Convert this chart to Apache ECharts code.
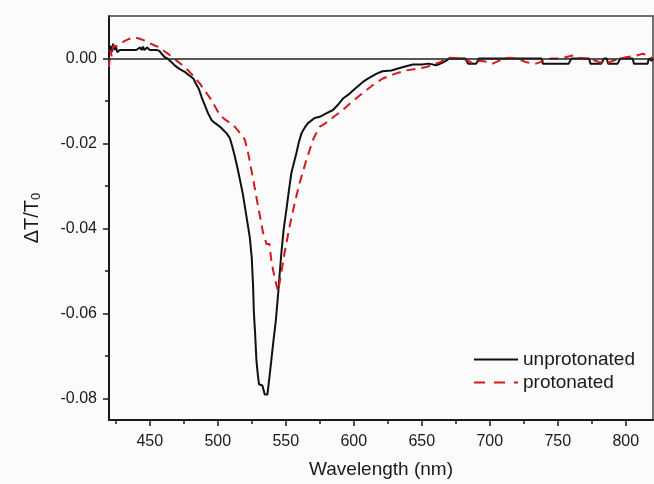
<!DOCTYPE html>
<html>
<head>
<meta charset="utf-8">
<script src="https://cdn.jsdelivr.net/npm/echarts@6/dist/echarts.min.js"></script>
<style>
  html, body { margin: 0; padding: 0; background: #fbfbfb; }
  #chart { width: 654px; height: 484px; }
</style>
</head>
<body>
<div id="chart"></div>
<script>
// unprotonated (black, solid)
const unprotWl = [420, 421, 422, 423, 424, 425, 426, 428, 430, 435, 440, 443, 444, 445, 446, 448, 450, 455, 457, 459, 461, 463, 466, 469, 472, 476, 479, 482, 484, 486, 488, 490.5, 493, 495.5, 498, 501.5, 504, 506.5, 508.8, 510.5, 512.5, 514.5, 516.2, 518.5, 521, 523.5, 525, 526, 526.5, 527.5, 528.4, 529.5, 530.3, 532.8, 534.5, 536.5, 538.2, 540.6, 542.6, 544.3, 545.3, 546.8, 548.5, 550.5, 552.3, 554.1, 556, 557.8, 559.5, 561.5, 564, 566.3, 571.2, 575, 579, 584.7, 588, 592, 596, 599.4, 603, 606.7, 611, 616.5, 621, 627.6, 635, 643.4, 650, 655, 660.6, 665, 668, 670, 682, 684, 690, 692, 738, 739, 758, 760, 773, 774, 782, 784, 786, 787, 794, 796, 805, 806, 816, 817, 819, 820];
const unprotVal = [0.0005, 0.003, 0.0015, 0.0035, 0.002, 0.003, 0.0015, 0.002, 0.002, 0.002, 0.002, 0.0026, 0.002, 0.0028, 0.002, 0.0026, 0.002, 0.002, 0.0018, 0.001, 0.0003, 0, -0.0009, -0.0018, -0.0025, -0.0032, -0.004, -0.0047, -0.006, -0.0071, -0.009, -0.011, -0.013, -0.0145, -0.0152, -0.016, -0.0168, -0.0176, -0.0187, -0.0205, -0.023, -0.0258, -0.0284, -0.032, -0.037, -0.042, -0.047, -0.054, -0.0595, -0.065, -0.071, -0.0745, -0.0766, -0.0769, -0.079, -0.079, -0.0743, -0.0673, -0.0618, -0.0556, -0.0515, -0.0455, -0.04, -0.0354, -0.031, -0.0269, -0.0245, -0.0222, -0.0198, -0.0176, -0.0162, -0.0152, -0.014, -0.0137, -0.013, -0.0121, -0.011, -0.0094, -0.0085, -0.0075, -0.0065, -0.0055, -0.0046, -0.0036, -0.003, -0.0028, -0.0021, -0.0014, -0.0014, -0.0012, -0.0016, -0.001, -0.0005, 0, 0, -0.0012, -0.0012, 0, 0, -0.0012, -0.0012, 0, 0, -0.0012, -0.0012, 0, 0, -0.0012, -0.0012, 0, 0, -0.0012, -0.0012, 0, -0.0005, 0];

// protonated (red, dashed)
const protWl = [420, 421, 422, 423, 425, 428, 432, 436, 439, 442, 446.4, 450, 454, 457.4, 460, 463.5, 466.5, 469.7, 474, 478.2, 482.5, 486.8, 491, 495.4, 498.5, 501.5, 506, 511.3, 515.5, 519.9, 522.3, 526, 529.6, 533.3, 535.8, 538, 539.5, 541.9, 544.3, 546.8, 549.2, 552.9, 556.6, 560.2, 565.2, 570, 572, 575, 577.4, 581, 586, 592, 600, 609, 615, 621.4, 630, 638.5, 646, 653.3, 658, 663, 670.4, 680, 684, 687.6, 693, 698, 702, 707, 714, 720, 727, 734, 740, 745, 752, 757, 761, 765, 770, 775, 780, 785.6, 790, 795, 800, 804.7, 808, 812, 815, 817, 820];
const protVal = [-0.002, 0.002, 0.0005, 0.003, 0.0028, 0.0035, 0.0042, 0.0048, 0.005, 0.0047, 0.0042, 0.0036, 0.003, 0.0026, 0.0019, 0.0011, 0.0003, -0.0005, -0.0016, -0.0028, -0.0043, -0.0059, -0.0078, -0.0098, -0.0116, -0.0133, -0.0145, -0.0156, -0.0172, -0.0191, -0.0222, -0.0284, -0.0347, -0.041, -0.0436, -0.0436, -0.0479, -0.0517, -0.0547, -0.0502, -0.0455, -0.0393, -0.0339, -0.0292, -0.0238, -0.0191, -0.0178, -0.016, -0.0156, -0.0148, -0.0135, -0.0121, -0.0098, -0.0075, -0.006, -0.0047, -0.0036, -0.0028, -0.0024, -0.002, -0.0015, -0.0009, 0.0002, 0, -0.0005, -0.0012, -0.0005, -0.0008, -0.0012, -0.0005, 0.0002, 0, -0.0009, -0.0012, -0.0005, 0, 0, 0.0004, 0.0007, 0.0002, 0, -0.0002, -0.0008, -0.0012, -0.0006, -0.0001, 0.0003, 0.0005, 0.0007, 0.0011, 0.0009, 0.0004, 0];

const xMajor = [450, 500, 550, 600, 650, 700, 750, 800];
const xMinor = [425, 475, 525, 575, 625, 675, 725, 775];
const yMajor = [0, -0.02, -0.04, -0.06, -0.08];
const yMinor = [-0.01, -0.03, -0.05, -0.07];

const font = "Liberation Sans, Arial, sans-serif";
const ink = "#1a1a1a";

const zip = (xs, ys) => xs.map((x, i) => [x, ys[i]]);

const chart = echarts.init(document.getElementById("chart"));

const xBase = {
  type: "value", min: 420, max: 820, gridIndex: 0,
  splitLine: { show: false }
};
const yBase = {
  type: "value", min: -0.085, max: 0.01, gridIndex: 0,
  splitLine: { show: false }
};

chart.setOption({
  backgroundColor: "#fbfbfb",
  animation: false,
  grid: { left: 109, right: 1, top: 16, bottom: 62 },
  legend: {
    orient: "vertical",
    left: 468,
    top: 345,
    itemWidth: 44,
    itemHeight: 14,
    itemGap: 4,
    itemStyle: { opacity: 0 },
    textStyle: { fontFamily: font, fontSize: 19, color: ink },
    data: [
      { name: "unprotonated" },
      { name: "protonated", lineStyle: { type: [11, 9] } }
    ]
  },
  xAxis: [
    Object.assign({}, xBase, {
      position: "bottom",
      name: "Wavelength (nm)",
      nameLocation: "middle",
      nameGap: 40,
      nameTextStyle: { fontFamily: font, fontSize: 19, color: ink },
      axisLine: { onZero: false, lineStyle: { color: ink, width: 2 } },
      axisTick: { customValues: xMajor, length: 6, lineStyle: { color: ink, width: 1.5 } },
      axisLabel: { customValues: xMajor, margin: 14, fontFamily: font, fontSize: 16, color: ink }
    }),
    Object.assign({}, xBase, {
      position: "bottom",
      axisLine: { show: false, onZero: false },
      axisTick: { customValues: xMinor, length: 4, lineStyle: { color: ink, width: 1.5 } },
      axisLabel: { show: false }
    }),
    Object.assign({}, xBase, {
      position: "top",
      axisLine: { onZero: false, lineStyle: { color: "#444", width: 1.5 } },
      axisTick: { show: false },
      axisLabel: { show: false }
    })
  ],
  yAxis: [
    Object.assign({}, yBase, {
      position: "left",
      name: "{m|ΔT/T}{s|0}",
      nameLocation: "middle",
      nameGap: 66,
      nameRotate: 90,
      nameTextStyle: {
        fontFamily: font, color: ink,
        rich: {
          m: { fontFamily: font, fontSize: 20, color: ink },
          s: { fontFamily: font, fontSize: 13, color: ink, padding: [9, 0, 0, 0] }
        }
      },
      axisLine: { onZero: false, lineStyle: { color: ink, width: 2 } },
      axisTick: { customValues: yMajor, length: 6, lineStyle: { color: ink, width: 1.5 } },
      axisLabel: {
        customValues: yMajor, margin: 12, fontFamily: font, fontSize: 16, color: ink,
        formatter: v => v.toFixed(2)
      }
    }),
    Object.assign({}, yBase, {
      position: "left",
      axisLine: { show: false, onZero: false },
      axisTick: { customValues: yMinor, length: 4, lineStyle: { color: ink, width: 1.5 } },
      axisLabel: { show: false }
    }),
    Object.assign({}, yBase, {
      position: "right",
      axisLine: { show: true, onZero: false, lineStyle: { color: "#444", width: 1.5 } },
      axisTick: { show: false },
      axisLabel: { show: false }
    })
  ],
  series: [
    {
      name: "unprotonated",
      type: "line",
      data: zip(unprotWl, unprotVal),
      showSymbol: false,
      symbol: "none",
      color: "#111",
      lineStyle: { color: "#111", width: 2 },
      z: 3,
      markLine: {
        silent: true,
        symbol: "none",
        label: { show: false },
        lineStyle: { color: "#222", width: 1.5, type: "solid" },
        data: [{ yAxis: 0 }]
      }
    },
    {
      name: "protonated",
      type: "line",
      data: zip(protWl, protVal),
      showSymbol: false,
      symbol: "none",
      color: "#d01c1f",
      lineStyle: { color: "#d01c1f", width: 2, type: [9, 6] },
      z: 4
    }
  ]
});
</script>
</body>
</html>
